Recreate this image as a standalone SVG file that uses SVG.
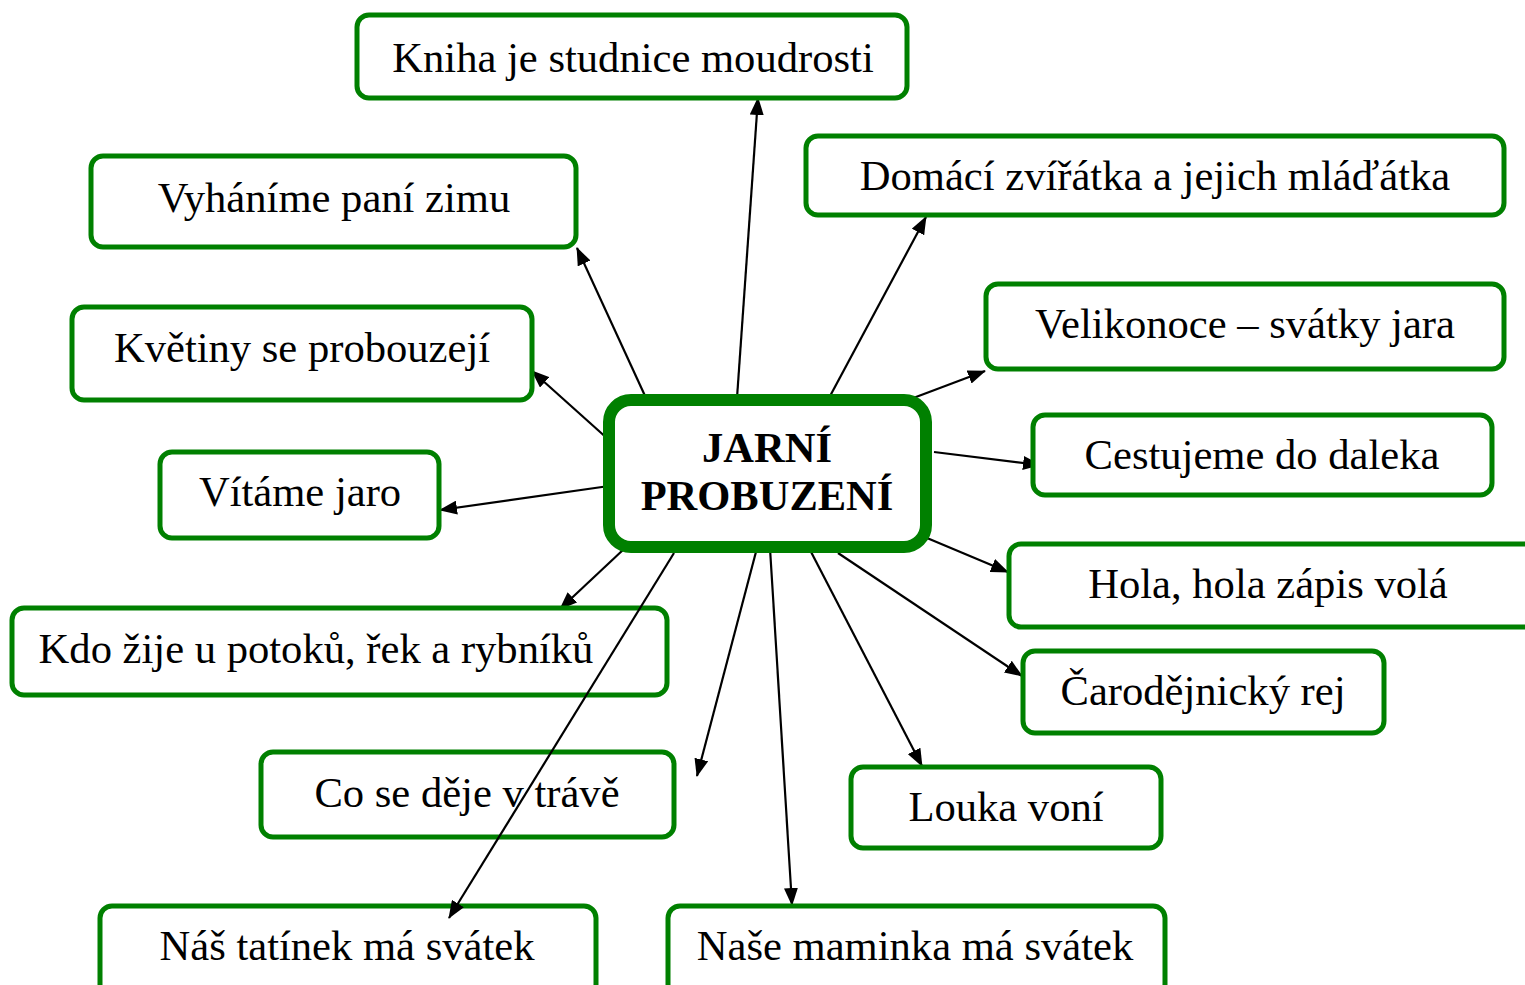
<svg xmlns="http://www.w3.org/2000/svg" width="1525" height="985" viewBox="0 0 1525 985">
<defs>
<marker id="ah" markerWidth="18" markerHeight="14" refX="17" refY="7" orient="auto" markerUnits="userSpaceOnUse">
<path d="M0,0 L18,7 L0,14 Z" fill="#000"/>
</marker>
<style>
.box{fill:#fff;stroke:#008000;stroke-width:5}
.t{font-family:"Liberation Serif","Times New Roman",serif;font-size:42.6px;fill:#000;text-anchor:middle}
.c{font-family:"Liberation Serif","Times New Roman",serif;font-size:42.5px;font-weight:bold;fill:#000;text-anchor:middle}
.e{stroke:#000;stroke-width:2.2;fill:none;marker-end:url(#ah)}
</style>
</defs>
<rect width="1525" height="985" fill="#fff"/>
<g id="connectors">
<line class="e" x1="737" y1="398" x2="758" y2="98"/>
<line class="e" x1="829" y1="398" x2="926" y2="217"/>
<line class="e" x1="908" y1="400" x2="985" y2="371"/>
<line class="e" x1="934" y1="452" x2="1040" y2="465"/>
<line class="e" x1="927" y1="538" x2="1008" y2="572"/>
<line class="e" x1="838" y1="553" x2="1022" y2="676"/>
<line class="e" x1="809" y1="548" x2="922" y2="766"/>
<line class="e" x1="770" y1="548" x2="792" y2="905"/>
<line class="e" x1="757" y1="548" x2="697" y2="776"/>
<line class="e" x1="624" y1="549" x2="560" y2="609"/>
<line class="e" x1="609" y1="486" x2="440" y2="510"/>
<line class="e" x1="609" y1="440" x2="532" y2="371"/>
<line class="e" x1="646" y1="398" x2="577" y2="248"/>
</g>
<g id="n-kniha"><rect class="box" x="357" y="15" width="550" height="83" rx="12"/><text class="t" x="633" y="72">Kniha je studnice moudrosti</text></g>
<g id="n-vyhanime"><rect class="box" x="91" y="156" width="485" height="91" rx="12"/><text class="t" x="334" y="212">Vyháníme paní zimu</text></g>
<g id="n-domaci"><rect class="box" x="806" y="136" width="698" height="79" rx="12"/><text class="t" x="1155" y="190">Domácí zvířátka a jejich mláďátka</text></g>
<g id="n-kvetiny"><rect class="box" x="72" y="307" width="460" height="93" rx="12"/><text class="t" x="302" y="362">Květiny se probouzejí</text></g>
<g id="n-velikonoce"><rect class="box" x="986" y="284" width="518" height="85" rx="12"/><text class="t" x="1245" y="338">Velikonoce – svátky jara</text></g>
<g id="n-vitame"><rect class="box" x="160" y="452" width="279" height="86" rx="12"/><text class="t" x="300" y="506">Vítáme jaro</text></g>
<g id="n-cestujeme"><rect class="box" x="1033" y="415" width="459" height="80" rx="12"/><text class="t" x="1262" y="469">Cestujeme do daleka</text></g>
<g id="n-hola"><rect class="box" x="1009" y="544" width="530" height="83" rx="12"/><text class="t" x="1268" y="598">Hola, hola zápis volá</text></g>
<g id="n-kdo"><rect class="box" x="12" y="608" width="655" height="87" rx="12"/><text class="t" x="316" y="663">Kdo žije u potoků, řek a rybníků</text></g>
<g id="n-carodejnicky"><rect class="box" x="1023" y="651" width="361" height="82" rx="12"/><text class="t" x="1203" y="705">Čarodějnický rej</text></g>
<g id="n-co"><rect class="box" x="261" y="752" width="413" height="85" rx="12"/><text class="t" x="467" y="807">Co se děje v trávě</text></g>
<g id="n-louka"><rect class="box" x="851" y="767" width="310" height="81" rx="12"/><text class="t" x="1006" y="821">Louka voní</text></g>
<g id="n-tatinek"><rect class="box" x="100" y="906" width="496" height="90" rx="12"/><text class="t" x="347" y="960">Náš tatínek má svátek</text></g>
<g id="n-maminka"><rect class="box" x="668" y="906" width="497" height="90" rx="12"/><text class="t" x="915" y="960">Naše maminka má svátek</text></g>
<line class="e" x1="674" y1="553" x2="449" y2="918"/>
<g id="n-center"><rect x="609" y="400" width="317" height="147" rx="22" fill="#fff" stroke="#008000" stroke-width="12"/><text class="c" x="767" y="462">JARNÍ</text><text class="c" x="767" y="510">PROBUZENÍ</text></g>
</svg>
